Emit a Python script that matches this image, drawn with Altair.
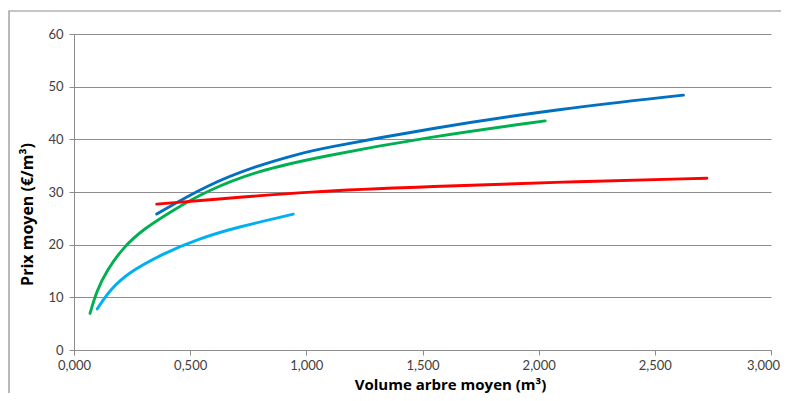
import altair as alt
import pandas as pd

# Series (x = Volume arbre moyen m³, y = Prix moyen €/m³)
blue_x = [0.356, 0.571, 0.787, 0.973, 1.059, 1.533, 2.092, 2.623]
blue_y = [25.8, 31.3, 35.0, 37.3, 38.2, 42.1, 45.8, 48.4]

green_x = [0.069, 0.098, 0.141, 0.212, 0.300, 0.428, 0.571, 0.787, 1.059, 1.533, 2.028]
green_y = [6.95, 11.3, 15.1, 19.5, 23.0, 26.6, 30.2, 34.0, 36.7, 40.5, 43.5]

lightblue_x = [0.100, 0.155, 0.241, 0.384, 0.535, 0.700, 0.944]
lightblue_y = [7.8, 11.5, 14.9, 18.3, 21.1, 23.3, 25.8]

red_x = [0.356, 1.059, 1.533, 2.092, 2.724]
red_y = [27.7, 30.3, 31.0, 31.9, 32.6]

x_ticks = [0, 0.5, 1, 1.5, 2, 2.5, 3]
y_ticks = [0, 10, 20, 30, 40, 50, 60]

series_names = ["A", "B", "C", "D"]
series_colors = ["#0070C0", "#00B050", "#00B0F0", "#FF0000"]

rows = []
for name, xs, ys in zip(series_names,
                        [blue_x, green_x, lightblue_x, red_x],
                        [blue_y, green_y, lightblue_y, red_y]):
    for i, (xv, yv) in enumerate(zip(xs, ys)):
        rows.append({"serie": name, "vol": xv, "prix": yv, "i": i})
df = pd.DataFrame(rows)

FONT = "Lato"
TFONT = "Open Sans"
GRID = "#8c8c8c"

lines = alt.Chart(df).mark_line(strokeWidth=2.9, interpolate="basis", strokeCap="round").encode(
    x=alt.X("vol:Q",
            scale=alt.Scale(domain=[0, 3], nice=False),
            axis=alt.Axis(values=x_ticks,
                          labelExpr="replace(format(datum.value, '.3f'), '.', ',')",
                          grid=False, domainColor=GRID, tickColor=GRID, tickSize=5,
                          labelFont=FONT, labelFontSize=13, labelColor="#404040",
                          labelPadding=4, labelFlush=False,
                          labelOffset={"condition": {"test": "datum.value == 3", "value": -8}, "value": 0},
                          title="Volume arbre moyen (m³)", titleFont=TFONT, titleFontSize=15,
                          titleFontWeight="bold", titleColor="#000000",
                          titleX=376, titleY=39, titleAlign="center", titleBaseline="alphabetic")),
    y=alt.Y("prix:Q",
            scale=alt.Scale(domain=[0, 60], nice=False),
            axis=alt.Axis(values=y_ticks,
                          grid=True, gridColor=GRID, gridWidth=1,
                          domainColor=GRID, tickColor=GRID, tickSize=5,
                          labelFont=FONT, labelFontSize=13, labelColor="#404040",
                          labelPadding=6,
                          title="Prix moyen (€/m³)", titleFont=TFONT, titleFontSize=16,
                          titleFontWeight="bold", titleColor="#000000",
                          titleX=-47, titleY=180, titleAngle=-90,
                          titleAlign="center", titleBaseline="middle")),
    color=alt.Color("serie:N", scale=alt.Scale(domain=series_names, range=series_colors), legend=None),
    order="i:Q",
)

border = alt.Chart(alt.Data(values=[{"a": 1}])).mark_rect(
    fill=None, stroke=GRID, strokeWidth=1.2
).encode(
    x=alt.value(-65), x2=alt.value(800), y=alt.value(-23), y2=alt.value(420)
)

chart = alt.layer(border, lines).properties(
    width=697, height=316,
    autosize=alt.AutoSizeParams(type="none"),
    padding={"left": 66, "top": 26, "right": 10, "bottom": 43},
    background="white",
).configure_view(stroke=None)

chart.save("out.html", embed_options={"renderer": "svg", "actions": False})
